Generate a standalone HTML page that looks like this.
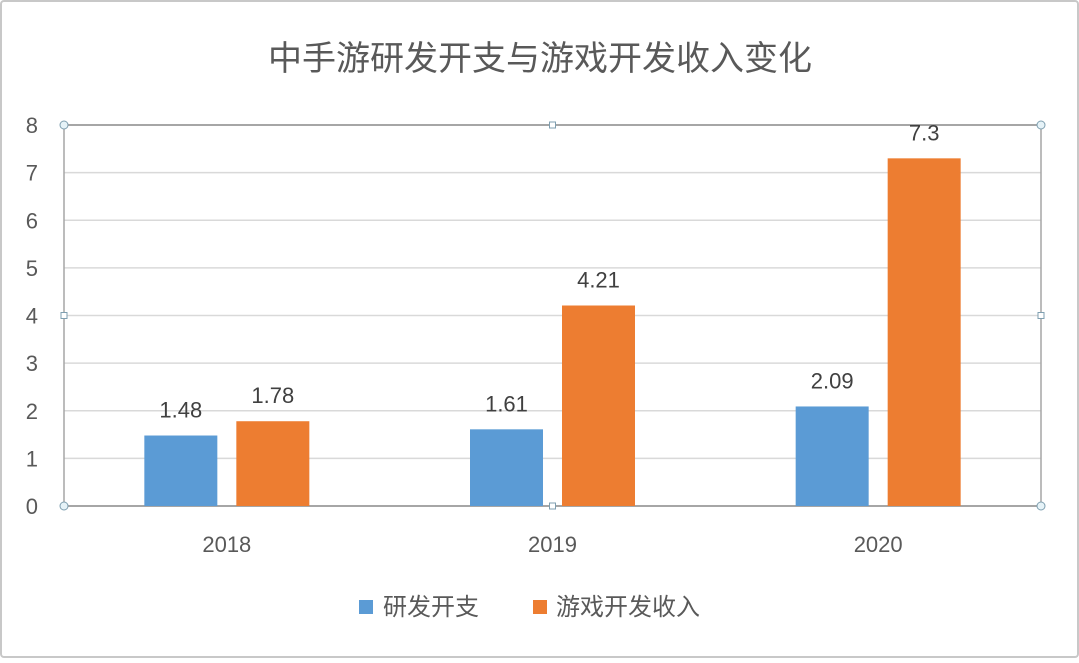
<!DOCTYPE html>
<html><head><meta charset="utf-8"><style>
html,body{margin:0;padding:0;background:#fff;}
body{width:1079px;height:658px;overflow:hidden;font-family:"Liberation Sans","Noto Sans CJK SC",sans-serif;}
</style></head><body>
<svg id="chart" width="1079" height="658" xmlns="http://www.w3.org/2000/svg" font-family="Liberation Sans, Noto Sans CJK SC, sans-serif">
<rect x="1" y="1" width="1077" height="656" rx="3" fill="#fff" stroke="#c8c8c8" stroke-width="2"/>
<text x="540" y="70" text-anchor="middle" font-size="34" fill="#595959">中手游研发开支与游戏开发收入变化</text>
<g id="grid"></g><g id="bars"></g><g id="labels"></g>
<g>
<rect x="359" y="600" width="14" height="14" fill="#5b9bd5"/>
<text x="383" y="615" font-size="24" fill="#595959">研发开支</text>
<rect x="533" y="600" width="14" height="14" fill="#ed7d31"/>
<text x="556" y="615" font-size="24" fill="#595959">游戏开发收入</text>
</g>
</svg>
<script>
const categories=["2018","2019","2020"];
const rdValues=[1.48,1.61,2.09];
const revenueValues=[1.78,4.21,7.3];
const revenueLabels=["1.78","4.21","7.3"];
const rdLabels=["1.48","1.61","2.09"];
const yTicks=[0,1,2,3,4,5,6,7,8];
const NS="http://www.w3.org/2000/svg";
const X0=64,X1=1041,Y0=506,Y1=125,YMAX=8;
const y=v=>Y0-(v/YMAX)*(Y0-Y1);
const band=(X1-X0)/categories.length;
const cx=i=>X0+band*(i+0.5);
function mk(t,a,p){const e=document.createElementNS(NS,t);for(const k in a)e.setAttribute(k,a[k]);document.getElementById(p).appendChild(e);return e;}
yTicks.forEach(t=>{
 const l=mk('line',{x1:X0,x2:X1,y1:y(t),y2:y(t),stroke:t===0||t===8?'#a6a6a6':'#d9d9d9','stroke-width':t===0||t===8?2:1.5},'grid');
 
 
 const tx=mk('text',{x:38,y:y(t)+8,'text-anchor':'end','font-size':22,fill:'#595959'},'grid');
 tx.textContent=t;
 
 
});
const vl=mk('line',{x1:X0,x2:X0,y1:Y1,y2:Y0,stroke:'#a6a6a6','stroke-width':1.5},'grid');


const vr=mk('line',{x1:X1,x2:X1,y1:Y1,y2:Y0,stroke:'#a6a6a6','stroke-width':1.5},'grid');


const BW=73,OFF=46;
categories.forEach((c,i)=>{
 const b1=mk('rect',{x:cx(i)-OFF-BW/2,y:y(rdValues[i]),width:BW,height:Y0-y(rdValues[i]),fill:'#5b9bd5'},'bars');
 
 
 const b2=mk('rect',{x:cx(i)+OFF-BW/2,y:y(revenueValues[i]),width:BW,height:Y0-y(revenueValues[i]),fill:'#ed7d31'},'bars');
 
 
 const l1=mk('text',{x:cx(i)-OFF,y:y(rdValues[i])-18,'text-anchor':'middle','font-size':22,fill:'#404040'},'labels');
 l1.textContent=rdLabels[i];
 
 
 const l2=mk('text',{x:cx(i)+OFF,y:y(revenueValues[i])-18,'text-anchor':'middle','font-size':22,fill:'#404040'},'labels');
 l2.textContent=revenueLabels[i];
 
 
 const xl=mk('text',{x:cx(i),y:552,'text-anchor':'middle','font-size':22,fill:'#595959'},'labels');
 xl.textContent=c;
 
 
});
const mx=(X0+X1)/2,my=(Y0+Y1)/2;
[[X0,Y1],[X1,Y1],[X0,Y0],[X1,Y0]].forEach(p=>{
 const h=mk('circle',{cx:p[0],cy:p[1],r:4,fill:'#e6f3f8',stroke:'#7f9fb0','stroke-width':1},'labels');
 
 
});
[[mx,Y1],[mx,Y0],[X0,my],[X1,my]].forEach(p=>{
 const h=mk('rect',{x:p[0]-3,y:p[1]-3,width:6,height:6,fill:'#fff',stroke:'#7f9fb0','stroke-width':1},'labels');
 
 
});
</script>
</body></html>
